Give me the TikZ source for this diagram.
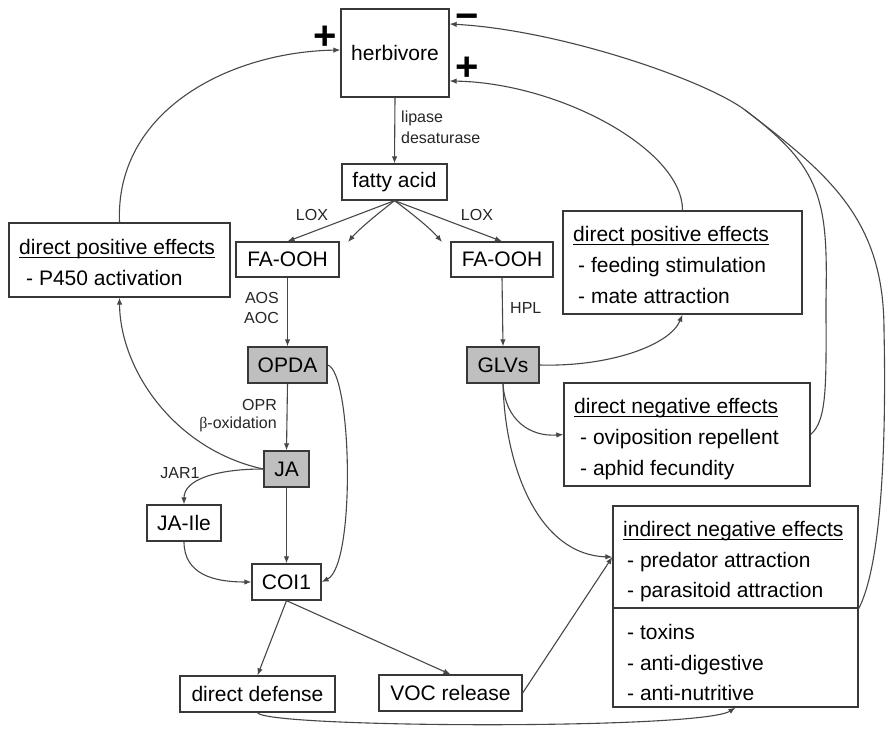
\documentclass[tikz,border=0pt]{standalone}
\usepackage{fontspec}
\setmainfont{Liberation Sans}
\newfontfamily\serifgr{Liberation Serif}
\newcommand{\myul}[1]{\setbox0\hbox{#1}\rlap{\rule[-4pt]{\wd0}{1.1pt}}\box0}
\usetikzlibrary{arrows.meta}
\begin{document}
\begin{tikzpicture}[x=1pt,y=-1pt,
  box/.style={draw=black!78, line width=1.3pt, inner sep=0pt, minimum height=36pt, font=\fontsize{21}{25}\selectfont},
  gbox/.style={box, fill=black!25},
  txt/.style={font=\fontsize{21}{25}\selectfont, inner sep=0pt},
  small/.style={font=\fontsize{16}{19}\selectfont, inner sep=0pt, text=black!85},
  con/.style={draw=black!72, line width=1.1pt, -{Latex[length=7pt,width=5.5pt]}},
  lin/.style={draw=black!72, line width=1.1pt},
  sign/.style={font=\fontsize{40}{40}\selectfont\bfseries, inner sep=0pt}
]
\useasboundingbox[fill=white] (0,0) rectangle (886,733);

% main nodes
\node[box, minimum width=108pt, minimum height=88pt] (herb) at (395,53) {herbivore};
\node[box, minimum width=105pt] (fa) at (394.5,182) {fatty acid};
\node[box, minimum width=103pt, minimum height=35pt] (faL) at (287.5,259.5) {FA-OOH};
\node[box, minimum width=102pt, minimum height=35pt] (faR) at (502,259.5) {FA-OOH};
\node[gbox, minimum width=79pt] (opda) at (287.5,365) {OPDA};
\node[gbox, minimum width=72pt] (glv) at (503,365) {GLVs};
\node[gbox, minimum width=45pt] (ja) at (286.5,469) {JA};
\node[box, minimum width=74pt] (jaile) at (184,523) {JA-Ile};
\node[box, minimum width=69pt] (coi) at (286.5,582) {COI1};
\node[box, minimum width=155pt] (dd) at (257.5,694) {direct defense};
\node[box, minimum width=143pt] (voc) at (450.5,693) {VOC release};

% effect boxes
\node[box, minimum width=221pt, minimum height=74pt] (dpeL) at (119.5,260) {};
\node[box, minimum width=239pt, minimum height=103pt] (dpeR) at (682.5,262.5) {};
\node[box, minimum width=246pt, minimum height=103pt] (dne) at (687,434.5) {};
\node[box, minimum width=245pt, minimum height=102pt] (indA) at (735.5,557) {};
\node[box, minimum width=245pt, minimum height=99pt] (indB) at (735.5,657.5) {};

% effect texts
\node[txt, anchor=base west] (tL1) at (19,254) {\myul{direct positive effects}};
\node[txt, anchor=base west] (tL2) at (26,285) {- P450 activation};
\node[txt, anchor=base west] (tR1) at (573,241) {\myul{direct positive effects}};
\node[txt, anchor=base west] (tR2) at (578,272) {- feeding stimulation};
\node[txt, anchor=base west] (tR3) at (578,303) {- mate attraction};
\node[txt, anchor=base west] (tN1) at (574,413) {\myul{direct negative effects}};
\node[txt, anchor=base west] (tN2) at (580,444) {- oviposition repellent};
\node[txt, anchor=base west] (tN3) at (580,475) {- aphid fecundity};
\node[txt, anchor=base west] (tI1) at (623,536) {\myul{indirect negative effects}};
\node[txt, anchor=base west] (tI2) at (627,567) {- predator attraction};
\node[txt, anchor=base west] (tI3) at (627,597) {- parasitoid attraction};
\node[txt, anchor=base west] (tI4) at (627,639) {- toxins};
\node[txt, anchor=base west] (tI5) at (627,670) {- anti-digestive};
\node[txt, anchor=base west] (tI6) at (627,700) {- anti-nutritive};

% small labels
\node[small, anchor=base west] (l1) at (401,123) {lipase};
\node[small, anchor=base west] (l2) at (401,143) {desaturase};
\node[small, anchor=base] (l3) at (312,220) {LOX};
\node[small, anchor=base] (l4) at (477,220) {LOX};
\node[small, anchor=base east] (l5) at (279,303) {AOS};
\node[small, anchor=base east] (l6) at (279,323) {AOC};
\node[small, anchor=base west] (l7) at (510,313) {HPL};
\node[small, anchor=base east] (l8) at (277,410) {OPR};
\node[small, anchor=base east] (l9) at (277,428) {{\serifgr β}-oxidation};
\node[small, anchor=base] (l10) at (180,478) {JAR1};

% signs
\node[sign] (s1) at (325.5,38) {+};
\node[sign, anchor=base] (s2) at (467,30) {\symbol{"2212}};
\node[sign] (s3) at (467,69) {+};

% connectors
\coordinate (fx1) at (348,242);
\coordinate (fx2) at (442,242);
\coordinate (m) at (745,110);
\draw[con] (herb.south) -- (fa.north);
\draw[con] (fa.south) -- (faL.north);
\draw[con] (fa.south) .. controls (380,212) and (360,228) .. (fx1);
\draw[con] (fa.south) .. controls (410,212) and (430,228) .. (fx2);
\draw[con] (fa.south) -- (faR.north);
\draw[con] (faL.south) -- (opda.north);
\draw[con] (faR.south) -- (glv.north);
\draw[con] (opda.south) -- (ja.north);
\draw[con] (ja.south) -- (coi.north);
\draw[con] (opda.east) .. controls (352,372) and (356,565) .. (coi.east);
\draw[con] (ja.west) .. controls (215,469) and (184,480) .. (jaile.north);
\draw[con] (ja.west) .. controls (175,450) and (120,370) .. (dpeL.south);
\draw[con] (jaile.south) .. controls (184,575) and (215,582) .. (coi.west);
\draw[con] (coi.south) -- (dd.north);
\draw[con] (coi.south) -- (voc.north);
\draw[con] (voc.east) -- (indA.west);
\draw[con] (dd.south) .. controls (265,728) and (700,730) .. (indB.south);
\draw[con] (glv.east) .. controls (610,367) and (670,345) .. (dpeR.south);
\draw[con] (glv.south) .. controls (505,420) and (530,437) .. (dne.west);
\draw[con] (glv.south) .. controls (505,470) and (540,555) .. (indA.west);
\draw[con] (dpeL.north) .. controls (115,110) and (230,52) .. ([yshift=3pt]herb.west);
\draw[con] (dpeR.north) .. controls (683,150) and (560,83) .. ([yshift=-28pt]herb.east);
\draw[lin] (dne.east) .. controls (828,420) and (826,380) .. (826,300)
   .. controls (828,200) and (822,168) .. (m);
\draw[lin] (indA.south east) .. controls (884,560) and (886,420) .. (884,330)
   .. controls (884,220) and (830,175) .. (m);
\draw[con] (m) .. controls (705,80) and (560,30) .. ([yshift=29pt]herb.east);
\end{tikzpicture}
\end{document}
